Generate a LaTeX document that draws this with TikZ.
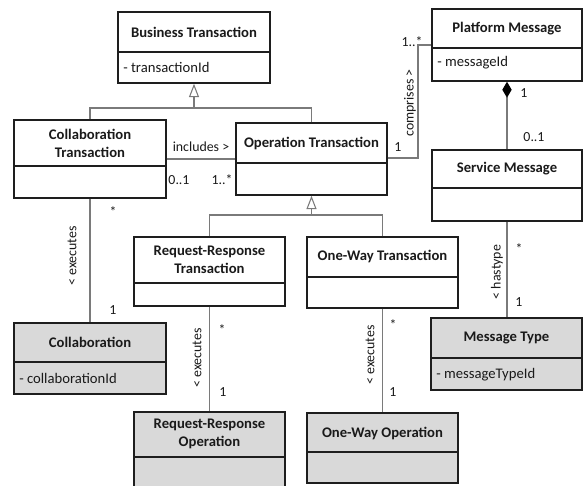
\documentclass[tikz,border=0pt]{standalone}
\usepackage{fontspec}
\setmainfont{Carlito}
\usetikzlibrary{arrows.meta,fit}

\definecolor{boxline}{HTML}{1E1E1E}
\definecolor{connline}{HTML}{7A7A7A}
\definecolor{shade}{HTML}{D9D9D9}
\definecolor{ink}{HTML}{1A1A1A}

\tikzset{
  cls/.style={draw=boxline, line width=1.1pt, fill=white, inner sep=0pt, rectangle},
  grey/.style={fill=shade},
  divider/.style={draw=boxline, line width=1.1pt},
  title/.style={font=\fontsize{11}{13.4}\selectfont\bfseries, text=ink, align=center, inner sep=0pt},
  attr/.style={font=\fontsize{11}{13.4}\selectfont, text=ink, anchor=west, inner sep=0pt},
  lbl/.style={font=\fontsize{10.4}{12}\selectfont, text=ink, inner sep=0pt},
  conn/.style={draw=connline, line width=0.8pt},
  gentip/.style={-{Triangle[open, length=10pt, width=7.5pt, line width=0.8pt]}},
  comptip/.style={-{Diamond[length=12pt, width=7pt, fill=black, color=black]}},
}

\begin{document}
\begin{tikzpicture}[x=0.75pt, y=-0.75pt]
\useasboundingbox (0,0) rectangle (583,486);
\clip (0,0) rectangle (583,486);

% ---- class boxes ----
\node[cls, fit={(118,12) (270,83)}] (bt) {};
\draw[divider] (bt.west |- 0,52) -- (bt.east |- 0,52);
\node[title] (btT) at (194,32) {Business Transaction};
\node[attr] (btA) at (123,67) {- transactionId};

\node[cls, fit={(14,120) (166,198)}] (ct) {};
\draw[divider] (ct.west |- 0,166) -- (ct.east |- 0,166);
\node[title] (ctT) at (90,143) {Collaboration\\Transaction};

\node[cls, fit={(236,123) (387,195)}] (ot) {};
\draw[divider] (ot.west |- 0,163) -- (ot.east |- 0,163);
\node[title] (otT) at (311.5,143) {Operation Transaction};

\node[cls, fit={(432,9) (582,81)}] (pm) {};
\draw[divider] (pm.west |- 0,48) -- (pm.east |- 0,48);
\node[title] (pmT) at (507,29) {Platform Message};
\node[attr] (pmA) at (437,63) {- messageId};

\node[cls, fit={(432,150) (582,221)}] (sm) {};
\draw[divider] (sm.west |- 0,188) -- (sm.east |- 0,188);
\node[title] (smT) at (507,169) {Service Message};

\node[cls, grey, fit={(431,318) (582,390)}] (mt) {};
\draw[divider] (mt.west |- 0,358) -- (mt.east |- 0,358);
\node[title] (mtT) at (506.5,338) {Message Type};
\node[attr] (mtA) at (436,375) {- messageTypeId};

\node[cls, fit={(134,237) (285,306)}] (rrt) {};
\draw[divider] (rrt.west |- 0,283) -- (rrt.east |- 0,283);
\node[title] (rrtT) at (209.5,260) {Request-Response\\Transaction};

\node[cls, fit={(307,237) (458,308)}] (owt) {};
\draw[divider] (owt.west |- 0,277) -- (owt.east |- 0,277);
\node[title] (owtT) at (382.5,256) {One-Way Transaction};

\node[cls, grey, fit={(14,323) (166,394)}] (col) {};
\draw[divider] (col.west |- 0,362) -- (col.east |- 0,362);
\node[title] (colT) at (90,342) {Collaboration};
\node[attr] (colA) at (19,378) {- collaborationId};

\node[cls, grey, fit={(134,412) (285,500)}] (rro) {};
\draw[divider] (rro.west |- 0,457) -- (rro.east |- 0,457);
\node[title] (rroT) at (209.5,434) {Request-Response\\Operation};

\node[cls, grey, fit={(307,413) (458,483)}] (owo) {};
\draw[divider] (owo.west |- 0,452) -- (owo.east |- 0,452);
\node[title] (owoT) at (382.5,433) {One-Way Operation};

% ---- generalisations ----
\coordinate (j1) at (bt.south |- 0,108);
\draw[conn] (ct.north) |- (j1);
\draw[conn] (ot.north) |- (j1);
\draw[conn, gentip] (j1) -- (bt.south);

\coordinate (j2) at (ot.south |- 0,215);
\draw[conn] (rrt.north) |- (j2);
\draw[conn] (owt.north) |- (j2);
\draw[conn, gentip] (j2) -- (ot.south);

% ---- associations ----
\draw[conn] (ct.east |- 0,159) -- (ot.west |- 0,159);
\node[lbl] (incL) at (201,147) {includes >};
\node[lbl] (incA) at (179,180) {0..1};
\node[lbl] (incB) at (222,180) {1..*};

\coordinate (cb) at (418,45);
\draw[conn] (ot.east |- 0,158) -| (cb) -- (pm.west |- cb);
\node[lbl, rotate=90] (cmpL) at (410,103) {comprises >};
\node[lbl] (cmpA) at (398,147) {1};
\node[lbl] (cmpB) at (412,42) {1..*};

\draw[conn, comptip] (sm.north) -- (pm.south);
\node[lbl] (pmA1) at (524,93) {1};
\node[lbl] (pmA2) at (534,137) {0..1};

\draw[conn] (sm.south) -- (sm.south |- mt.north);
\node[lbl, rotate=90] (htL) at (497,272) {< hastype};
\node[lbl] (htA) at (519,249) {*};
\node[lbl] (htB) at (519,302) {1};

\draw[conn] (ct.south) -- (col.north);
\node[lbl, rotate=90] (ex1L) at (72,256) {< executes};
\node[lbl] (ex1A) at (113,212) {*};
\node[lbl] (ex1B) at (113,310) {1};

\draw[conn] (rrt.south) -- (rro.north);
\node[lbl, rotate=90] (ex2L) at (197,358) {< executes};
\node[lbl] (ex2A) at (222,330) {*};
\node[lbl] (ex2B) at (223,392) {1};

\draw[conn] (owt.south) -- (owo.north);
\node[lbl, rotate=90] (ex3L) at (370,355) {< executes};
\node[lbl] (ex3A) at (393,325) {*};
\node[lbl] (ex3B) at (393,392) {1};
\end{tikzpicture}
\end{document}
